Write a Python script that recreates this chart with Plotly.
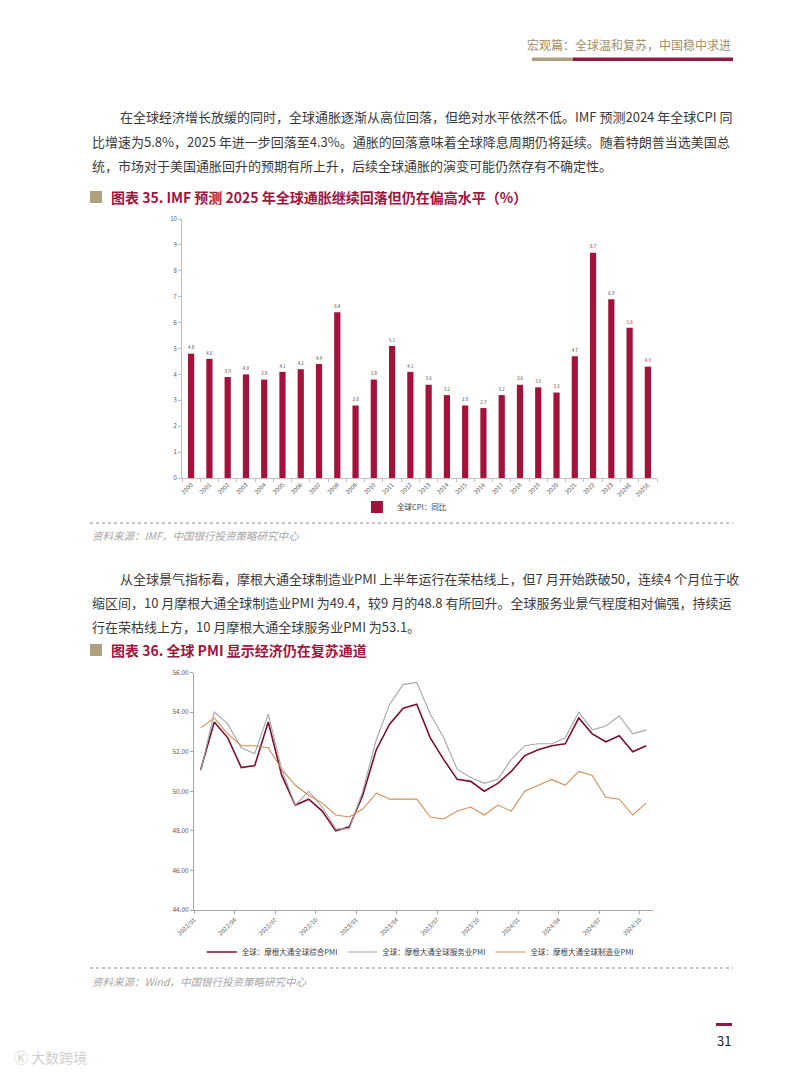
import plotly.graph_objects as go

# ---------------- data ----------------
years = ["2000", "2001", "2002", "2003", "2004", "2005", "2006", "2007", "2008", "2009",
         "2010", "2011", "2012", "2013", "2014", "2015", "2016", "2017", "2018", "2019",
         "2020", "2021", "2022", "2023", "2024E", "2025E"]
cpi = [4.8, 4.6, 3.9, 4.0, 3.8, 4.1, 4.2, 4.4, 6.4, 2.8,
       3.8, 5.1, 4.1, 3.6, 3.2, 2.8, 2.7, 3.2, 3.6, 3.5,
       3.3, 4.7, 8.7, 6.9, 5.8, 4.3]
cpi_forecast = [False] * 24 + [True, True]

months = ["2022/01", "2022/02", "2022/03", "2022/04", "2022/05", "2022/06", "2022/07", "2022/08",
          "2022/09", "2022/10", "2022/11", "2022/12", "2023/01", "2023/02", "2023/03", "2023/04",
          "2023/05", "2023/06", "2023/07", "2023/08", "2023/09", "2023/10", "2023/11", "2023/12",
          "2024/01", "2024/02", "2024/03", "2024/04", "2024/05", "2024/06", "2024/07", "2024/08",
          "2024/09", "2024/10"]
composite = [51.1, 53.5, 52.7, 51.2, 51.3, 53.5, 50.8, 49.3, 49.6, 49.0, 48.0, 48.2,
             49.8, 52.1, 53.4, 54.2, 54.4, 52.7, 51.6, 50.6, 50.5, 50.0, 50.4, 51.0,
             51.8, 52.1, 52.3, 52.4, 53.7, 52.9, 52.5, 52.8, 52.0, 52.3]
services = [51.0, 54.0, 53.4, 52.2, 51.9, 53.9, 51.1, 49.3, 50.0, 49.2, 48.1, 48.1,
            50.0, 52.6, 54.4, 55.4, 55.5, 53.9, 52.7, 51.1, 50.7, 50.4, 50.6, 51.6,
            52.3, 52.4, 52.4, 52.7, 54.0, 53.1, 53.3, 53.8, 52.9, 53.1]
manufacturing = [53.2, 53.7, 52.9, 52.3, 52.3, 52.2, 51.1, 50.3, 49.8, 49.4, 48.8, 48.7,
                 49.1, 49.9, 49.6, 49.6, 49.6, 48.7, 48.6, 49.0, 49.2, 48.8, 49.3, 49.0,
                 50.0, 50.3, 50.6, 50.3, 51.0, 50.8, 49.7, 49.6, 48.8, 49.4]

# ---------------- styling ----------------
W, H = 793, 1076
FONT = "Noto Sans CJK SC"
MAROON = "#8E1A3D"
TAN = "#AD9F80"
BAR = "#A3123A"
TITLE_RED = "#A0153E"
TEXT = "#3A3A3A"
AXIS = "#BFBFBF"
TICKF = "#595959"


def px(x):
    return x / W


def py(y):
    return 1 - y / H


fig = go.Figure()

bar_text_colors = ["#C0143C" if f else "#404040" for f in cpi_forecast]
fig.add_trace(go.Bar(
    x=years, y=cpi, name="全球CPI：同比",
    marker=dict(color=BAR, line=dict(width=0)),
    text=[f"{v:.1f}" for v in cpi], textposition="outside",
    textfont=dict(size=7, color=bar_text_colors, family=FONT),
    cliponaxis=False, xaxis="x", yaxis="y", legend="legend",
))

xpos = [i + 0.5 for i in range(len(months))]
fig.add_trace(go.Scatter(
    x=xpos, y=composite, mode="lines",
    name="全球：摩根大通全球综合PMI", line=dict(color="#7A1030", width=1.6),
    xaxis="x2", yaxis="y2", legend="legend2",
))
fig.add_trace(go.Scatter(
    x=xpos, y=services, mode="lines",
    name="全球：摩根大通全球服务业PMI", line=dict(color="#A6A6A6", width=1.1),
    xaxis="x2", yaxis="y2", legend="legend2",
))
fig.add_trace(go.Scatter(
    x=xpos, y=manufacturing, mode="lines",
    name="全球：摩根大通全球制造业PMI", line=dict(color="#D0905A", width=1.1),
    xaxis="x2", yaxis="y2", legend="legend2",
))

tick_idx = list(range(0, len(months), 3))

fig.update_layout(
    width=W, height=H, margin=dict(l=0, r=0, t=0, b=0, autoexpand=False),
    paper_bgcolor="white", plot_bgcolor="white",
    font=dict(family=FONT, color=TEXT),
    bargap=0.66,
    showlegend=True,
    xaxis=dict(
        domain=[px(182), px(657)], anchor="y", type="category", automargin=False,
        showline=True, linecolor=AXIS, linewidth=1, ticks="outside", tickson="boundaries",
        ticklen=3, tickcolor=AXIS, tickangle=-45, tickfont=dict(size=6, color=TICKF),
        showgrid=False, zeroline=False,
    ),
    yaxis=dict(
        domain=[py(478), py(219)], anchor="x", range=[0, 10], dtick=1, automargin=False,
        showline=True, linecolor=AXIS, linewidth=1, ticks="outside", ticklen=3,
        tickcolor=AXIS, tickfont=dict(size=6, color=TICKF), showgrid=False, zeroline=False,
    ),
    xaxis2=dict(
        domain=[px(194), px(653)], anchor="y2", range=[0, len(months)], automargin=False,
        tickvals=tick_idx, ticktext=[months[i] for i in tick_idx],
        showline=True, linecolor="#A6A6A6", linewidth=1, ticks="outside", ticklen=3,
        tickcolor="#A6A6A6", tickangle=-45, tickfont=dict(size=6, color=TICKF),
        showgrid=False, zeroline=False,
    ),
    yaxis2=dict(
        domain=[py(910), py(672.5)], anchor="x2", range=[44, 56], dtick=2, tickformat=".2f",
        automargin=False,
        showline=True, linecolor="#A6A6A6", linewidth=1, ticks="outside", ticklen=3,
        tickcolor="#A6A6A6", tickfont=dict(size=6.5, color=TICKF), showgrid=False, zeroline=False,
    ),
    legend=dict(
        orientation="h", x=0.51, xanchor="center", y=py(507), yanchor="middle",
        font=dict(size=7.5, color="#404040"), bgcolor="rgba(0,0,0,0)", itemwidth=30,
    ),
    legend2=dict(
        orientation="h", x=0.53, xanchor="center", y=py(952), yanchor="middle",
        font=dict(size=7.5, color="#404040"), bgcolor="rgba(0,0,0,0)", itemwidth=30,
        tracegroupgap=0,
    ),
)

shapes = [
    # header underline
    dict(type="rect", xref="paper", yref="paper", x0=px(532), x1=px(573), y0=py(61), y1=py(57.5),
         fillcolor=TAN, line=dict(width=0)),
    dict(type="rect", xref="paper", yref="paper", x0=px(573), x1=px(733), y0=py(61), y1=py(57.5),
         fillcolor=MAROON, line=dict(width=0)),
    # title markers
    dict(type="rect", xref="paper", yref="paper", x0=px(90), x1=px(102), y0=py(203), y1=py(191),
         fillcolor=TAN, line=dict(width=0)),
    dict(type="rect", xref="paper", yref="paper", x0=px(90), x1=px(102), y0=py(656), y1=py(644),
         fillcolor=TAN, line=dict(width=0)),
    # dotted separators
    dict(type="line", xref="paper", yref="paper", x0=px(90), x1=px(733), y0=py(523), y1=py(523),
         line=dict(color="#8C8C8C", width=1, dash="dot")),
    dict(type="line", xref="paper", yref="paper", x0=px(90), x1=px(733), y0=py(968), y1=py(968),
         line=dict(color="#8C8C8C", width=1, dash="dot")),
    # page number bar
    dict(type="rect", xref="paper", yref="paper", x0=px(716), x1=px(732), y0=py(1026), y1=py(1023),
         fillcolor=MAROON, line=dict(width=0)),
]
fig.update_layout(shapes=shapes)

anns = []


def add_text(x, y, text, size, color=TEXT, bold=False, italic=False, xanchor="left"):
    t = text
    if bold:
        t = f"<b>{t}</b>"
    if italic:
        t = f"<i>{t}</i>"
    anns.append(dict(xref="paper", yref="paper", x=px(x), y=py(y), text=t, showarrow=False,
                     xanchor=xanchor, yanchor="middle", font=dict(size=size, color=color, family=FONT)))


add_text(733, 45, "宏观篇：全球温和复苏，中国稳中求进", 12, color="#A08F6A", xanchor="right")

para1 = [
    (118, "在全球经济增长放缓的同时，全球通胀逐渐从高位回落，但绝对水平依然不低。IMF 预测2024 年全球CPI 同"),
    (90, "比增速为5.8%，2025 年进一步回落至4.3%。通胀的回落意味着全球降息周期仍将延续。随着特朗普当选美国总"),
    (90, "统，市场对于美国通胀回升的预期有所上升，后续全球通胀的演变可能仍然存有不确定性。"),
]
for k, (x0, line) in enumerate(para1):
    add_text(x0, 117 + 24 * k, line, 13)

add_text(109, 197, "图表 35. IMF 预测 2025 年全球通胀继续回落但仍在偏高水平（%）", 14, color=TITLE_RED, bold=True)
add_text(90, 535, "资料来源：IMF，中国银行投资策略研究中心", 10.5, color="#A6A6A6", italic=True)

para2 = [
    (118, "从全球景气指标看，摩根大通全球制造业PMI 上半年运行在荣枯线上，但7 月开始跌破50，连续4 个月位于收"),
    (90, "缩区间，10 月摩根大通全球制造业PMI 为49.4，较9 月的48.8 有所回升。全球服务业景气程度相对偏强，持续运"),
    (90, "行在荣枯线上方，10 月摩根大通全球服务业PMI 为53.1。"),
]
for k, (x0, line) in enumerate(para2):
    add_text(x0, 578 + 24 * k, line, 13)

add_text(109, 650, "图表 36. 全球 PMI 显示经济仍在复苏通道", 14, color=TITLE_RED, bold=True)
add_text(90, 981, "资料来源：Wind，中国银行投资策略研究中心", 10.5, color="#A6A6A6", italic=True)

add_text(724, 1040, "31", 13, color="#222222", xanchor="center")
add_text(12, 1057, "Ⓚ 大数跨境", 14, color="#CFCFCF")

fig.update_layout(annotations=anns)

fig.write_html("out.html", config={"displayModeBar": False},
               post_script="document.body.style.margin='0px';")
